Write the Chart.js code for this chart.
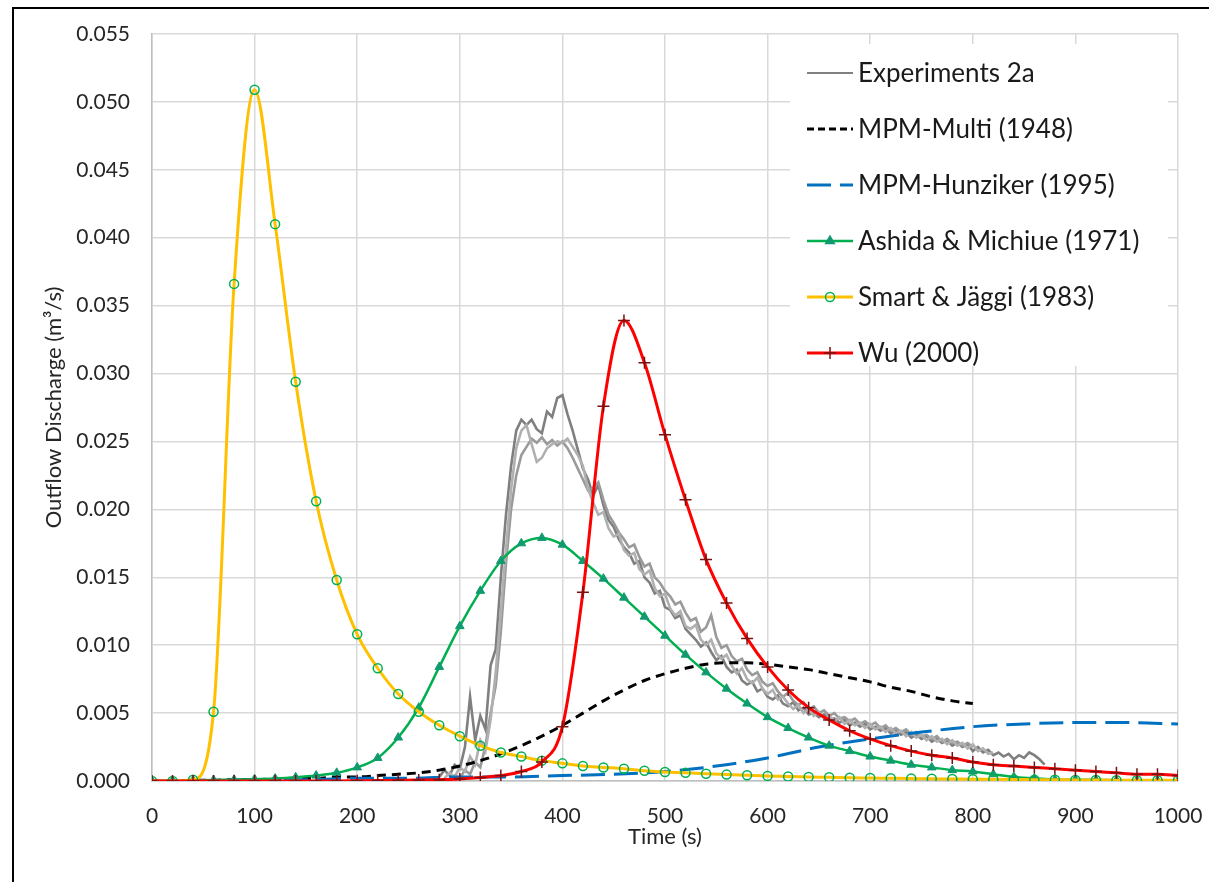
<!DOCTYPE html>
<html>
<head>
<meta charset="utf-8">
<script src="https://cdn.jsdelivr.net/npm/chart.js@4.4.1/dist/chart.umd.min.js"></script>
<style>
  html, body { margin: 0; padding: 0; background: #fff; overflow: hidden; }
  #frame { position: absolute; left: 12px; top: 7px; width: 1300px; height: 1000px; border: 2px solid #000; }
  #wrap { position: absolute; left: 0; top: 0; width: 1209px; height: 882px; }
</style>
</head>
<body>
<div id="frame"></div>
<div id="wrap"><canvas id="flowChart"></canvas></div>
<script>
// model runs, sampled every 20 s
const modelTimes = [0, 20, 40, 60, 80, 100, 120, 140, 160, 180, 200, 220, 240, 260, 280, 300, 320, 340, 360, 380,
  400, 420, 440, 460, 480, 500, 520, 540, 560, 580, 600, 620, 640, 660, 680, 700, 720, 740, 760, 780,
  800, 820, 840, 860, 880, 900, 920, 940, 960, 980, 1000];

const smartJaeggi = [0, 0, 0.0001, 0.0051, 0.0366, 0.0509, 0.0410, 0.0294, 0.0206, 0.0148, 0.0108, 0.0083, 0.0064, 0.0051, 0.0041, 0.0033, 0.0026, 0.0021, 0.0018, 0.0015,
  0.0013, 0.0011, 0.0010, 0.0009, 0.00075, 0.00066, 0.0006, 0.00053, 0.00047, 0.00042, 0.00037, 0.00033, 0.0003, 0.00027, 0.00024, 0.00022, 0.0002, 0.00018, 0.00016, 0.00015,
  0.00013, 0.00012, 0.00011, 0.0001, 0.00009, 0.00008, 0.00007, 0.00006, 0.00006, 0.00005, 0.00005];

const ashidaMichiue = [0, 0.00002, 0.00005, 0.00008, 0.0001, 0.00013, 0.00018, 0.00027, 0.0004, 0.0006, 0.0010, 0.0017, 0.0032, 0.0054, 0.0084, 0.0114, 0.0140, 0.0162, 0.0175, 0.0179,
  0.0174, 0.0162, 0.0149, 0.0135, 0.0121, 0.0107, 0.0093, 0.0080, 0.0068, 0.0057, 0.0047, 0.0039, 0.0032, 0.0026, 0.0022, 0.0018, 0.0015, 0.0012, 0.0010, 0.0008,
  0.0007, 0.0005, 0.0003, 0.0002, 0.0001, 0.0001, 0.00008, 0.00006, 0.00005, 0.00004, 0.00003];

const wu = [0, 0, 0, 0, 0, 0, 0, 0, 0, 0, 0.00002, 0.00003, 0.00005, 0.00007, 0.0001, 0.00015, 0.00025, 0.0004, 0.0007, 0.0014,
  0.0040, 0.0139, 0.0276, 0.0339, 0.0308, 0.0255, 0.0207, 0.0163, 0.0131, 0.0105, 0.0084, 0.0067, 0.0054, 0.0045, 0.0037, 0.0031, 0.0026, 0.0022, 0.0019, 0.0017,
  0.0014, 0.0012, 0.0011, 0.0010, 0.0009, 0.0008, 0.0007, 0.0006, 0.0005, 0.0005, 0.0004];

// MPM-Multi stops at 800 s
const multiTimes = modelTimes.slice(0, 41);
const mpmMulti = [0, 0, 0.00005, 0.00005, 0.0001, 0.0001, 0.00015, 0.0002, 0.0002, 0.0003, 0.0003, 0.0004, 0.0005, 0.0006, 0.0008, 0.0011, 0.0015, 0.0020, 0.0026, 0.0033,
  0.0041, 0.0050, 0.0059, 0.0067, 0.0074, 0.0079, 0.0083, 0.0086, 0.0087, 0.0087, 0.0086, 0.0084, 0.0082, 0.0079, 0.0076, 0.0073, 0.0069, 0.0066, 0.0062, 0.0059,
  0.0057];

const hunzikerTimes = [0, 50, 100, 150, 200, 250, 300, 350, 400, 450, 500, 550, 600, 650, 700, 750, 800, 850, 900, 950, 1000];
const mpmHunziker = [0, 0, 0.0001, 0.0001, 0.0002, 0.0002, 0.0003, 0.0003, 0.0004, 0.0005, 0.0007, 0.0011, 0.0017, 0.0025, 0.0031, 0.0036, 0.0040, 0.0042, 0.0043, 0.0043, 0.0042];

// three repeats of experiment 2a, logged every 5 s
const expStep = 5;
const expAStart = 280;
const expA = [0.0003, 0.0008, 0.0004, 0.0012, 0.0009, 0.0025, 0.0062, 0.0030, 0.0048, 0.0038, 0.0085, 0.0097, 0.0150, 0.0196, 0.0232, 0.0258, 0.0266, 0.0262, 0.0266, 0.0259,
  0.0256, 0.0272, 0.0268, 0.0282, 0.0284, 0.0270, 0.0258, 0.0244, 0.0230, 0.0222, 0.0210, 0.0218, 0.0203, 0.0192, 0.0187, 0.0178, 0.0172, 0.0168, 0.0160, 0.0162,
  0.0150, 0.0146, 0.0138, 0.0140, 0.0128, 0.0126, 0.0120, 0.0122, 0.0112, 0.0108, 0.0104, 0.0099, 0.0102, 0.0095, 0.0089, 0.0092, 0.0084, 0.0080, 0.0082, 0.0074,
  0.0071, 0.0073, 0.0066, 0.0068, 0.0062, 0.0060, 0.0063, 0.0057, 0.0055, 0.0058, 0.0052, 0.0054, 0.0049, 0.0050, 0.0047, 0.0049, 0.0045, 0.0046, 0.0043, 0.0045,
  0.0041, 0.0043, 0.0040, 0.0042, 0.0038, 0.0040, 0.0037, 0.0039, 0.0035, 0.0037, 0.0034, 0.0036, 0.0032, 0.0034, 0.0031, 0.0033, 0.0029, 0.0031, 0.0028, 0.0030,
  0.0026, 0.0028, 0.0025, 0.0027, 0.0022, 0.0025, 0.0021, 0.0023, 0.0019, 0.0021, 0.0018, 0.0020, 0.0016, 0.0019, 0.0017, 0.0021, 0.0019, 0.0016, 0.0012];

const expBStart = 285;
const expB = [0.0002, 0.0006, 0.0003, 0.0010, 0.0007, 0.0018, 0.0012, 0.0030, 0.0022, 0.0045, 0.0080, 0.0125, 0.0170, 0.0215, 0.0245, 0.0258, 0.0262, 0.0248, 0.0235, 0.0238,
  0.0245, 0.0248, 0.0250, 0.0249, 0.0252, 0.0246, 0.0240, 0.0232, 0.0215, 0.0205, 0.0196, 0.0198, 0.0186, 0.0180, 0.0182, 0.0170, 0.0166, 0.0168, 0.0156, 0.0152,
  0.0155, 0.0142, 0.0136, 0.0138, 0.0127, 0.0122, 0.0125, 0.0114, 0.0112, 0.0115, 0.0104, 0.0100, 0.0104, 0.0094, 0.0090, 0.0093, 0.0085, 0.0079, 0.0083, 0.0075,
  0.0072, 0.0076, 0.0068, 0.0064, 0.0067, 0.0060, 0.0062, 0.0057, 0.0053, 0.0056, 0.0050, 0.0053, 0.0048, 0.0051, 0.0046, 0.0048, 0.0044, 0.0047, 0.0042, 0.0045,
  0.0041, 0.0043, 0.0039, 0.0042, 0.0038, 0.0040, 0.0036, 0.0039, 0.0035, 0.0037, 0.0033, 0.0036, 0.0032, 0.0034, 0.0030, 0.0033, 0.0029, 0.0031, 0.0027, 0.0030,
  0.0026, 0.0028, 0.0024, 0.0027, 0.0022, 0.0024, 0.0020, 0.0021];

const expCStart = 290;
const expC = [0.0001, 0.0004, 0.0002, 0.0008, 0.0005, 0.0014, 0.0010, 0.0026, 0.0050, 0.0070, 0.0110, 0.0160, 0.0200, 0.0225, 0.0240, 0.0246, 0.0252, 0.0249, 0.0253, 0.0248,
  0.0251, 0.0247, 0.0250, 0.0245, 0.0238, 0.0230, 0.0222, 0.0214, 0.0216, 0.0220, 0.0207, 0.0196, 0.0190, 0.0183, 0.0178, 0.0172, 0.0174, 0.0165, 0.0158, 0.0160,
  0.0150, 0.0146, 0.0140, 0.0136, 0.0130, 0.0132, 0.0124, 0.0118, 0.0120, 0.0110, 0.0113, 0.0122, 0.0106, 0.0098, 0.0100, 0.0092, 0.0088, 0.0090, 0.0082, 0.0078,
  0.0080, 0.0073, 0.0070, 0.0072, 0.0066, 0.0062, 0.0065, 0.0059, 0.0056, 0.0058, 0.0053, 0.0055, 0.0050, 0.0052, 0.0048, 0.0050, 0.0046, 0.0047, 0.0044, 0.0046,
  0.0042, 0.0044, 0.0041, 0.0043, 0.0039, 0.0041, 0.0037, 0.0039, 0.0036, 0.0038, 0.0034, 0.0036, 0.0033, 0.0034, 0.0031, 0.0033, 0.0029, 0.0031, 0.0028, 0.0029,
  0.0026, 0.0028, 0.0025];

const xTicksMax = 1000;
const yTicksMax = 0.055;
const yTickStep = 0.005;

const FONT = "Lato, 'Open Sans', sans-serif";

function pairs(times, values) {
  return values.map((v, i) => ({ x: times[i], y: v }));
}

function series(start, values) {
  return values.map((v, i) => ({ x: start + i * expStep, y: v }));
}

const expLine = color => ({
  borderColor: color,
  borderWidth: 2.6,
  pointRadius: 0,
  tension: 0,
  order: 6
});

// legend entries, drawn inside the plot area on a white card
const legendEntries = [
  { label: "Experiments 2a", color: "#808080", width: 2, dash: [] },
  { label: "MPM-Multi (1948)", color: "#000000", width: 3, dash: [7, 4] },
  { label: "MPM-Hunziker (1995)", color: "#0070c0", width: 3, dash: [24, 9] },
  { label: "Ashida & Michiue (1971)", color: "#00b050", width: 2.5, dash: [], marker: { style: "triangle", fill: "#119a70", stroke: "#119a70", r: 5 } },
  { label: "Smart & Jäggi (1983)", color: "#ffc000", width: 3, dash: [], marker: { style: "circle", fill: "rgba(255,255,255,0)", stroke: "#00b050", r: 4.5 } },
  { label: "Wu (2000)", color: "#ff0000", width: 3, dash: [], marker: { style: "cross", fill: "#7a1010", stroke: "#7a1010", r: 6 } }
];

const insideLegend = {
  id: "insideLegend",
  beforeDatasetsDraw(chart) {
    const { ctx, chartArea } = chart;
    const x0 = chartArea.right - 388;
    const y0 = chartArea.top + 10;
    ctx.save();
    ctx.fillStyle = "#fff";
    ctx.fillRect(x0, y0, 378, 322);
    ctx.font = "26px " + FONT;
    ctx.textBaseline = "middle";
    legendEntries.forEach((e, i) => {
      const y = y0 + 29 + i * 56;
      ctx.beginPath();
      ctx.setLineDash(e.dash);
      ctx.strokeStyle = e.color;
      ctx.lineWidth = e.width;
      ctx.moveTo(x0 + 17, y);
      ctx.lineTo(x0 + 63, y);
      ctx.stroke();
      ctx.setLineDash([]);
      if (e.marker) {
        ctx.fillStyle = e.marker.fill;
        ctx.strokeStyle = e.marker.stroke;
        ctx.lineWidth = 1.5;
        Chart.helpers.drawPoint(ctx, { pointStyle: e.marker.style, radius: e.marker.r, rotation: 0, borderWidth: 1.5 }, x0 + 40, y);
      }
      ctx.fillStyle = "#1a1a1a";
      ctx.fillText(e.label, x0 + 68, y + 1);
    });
    ctx.restore();
  }
};

new Chart(document.getElementById("flowChart"), {
  type: "line",
  data: {
    datasets: [
      {
        label: "Wu (2000)",
        data: pairs(modelTimes, wu),
        borderColor: "#ff0000",
        borderWidth: 3,
        pointStyle: "cross",
        pointRadius: 6,
        pointBorderColor: "#7a1010",
        pointBorderWidth: 1.5,
        cubicInterpolationMode: "monotone",
        order: 0
      },
      {
        label: "Smart & Jäggi (1983)",
        data: pairs(modelTimes, smartJaeggi),
        borderColor: "#ffc000",
        borderWidth: 3,
        pointStyle: "circle",
        pointRadius: 4.5,
        pointBorderColor: "#00b050",
        pointBackgroundColor: "rgba(255,255,255,0)",
        pointBorderWidth: 1.5,
        cubicInterpolationMode: "monotone",
        order: 1
      },
      {
        label: "Ashida & Michiue (1971)",
        data: pairs(modelTimes, ashidaMichiue),
        borderColor: "#00b050",
        borderWidth: 2.5,
        pointStyle: "triangle",
        pointRadius: 5,
        pointBorderColor: "#119a70",
        pointBackgroundColor: "#119a70",
        pointBorderWidth: 1,
        cubicInterpolationMode: "monotone",
        order: 2
      },
      {
        label: "MPM-Hunziker (1995)",
        data: pairs(hunzikerTimes, mpmHunziker),
        borderColor: "#0070c0",
        borderWidth: 3,
        borderDash: [24, 9],
        pointRadius: 0,
        cubicInterpolationMode: "monotone",
        order: 3
      },
      {
        label: "MPM-Multi (1948)",
        data: pairs(multiTimes, mpmMulti),
        borderColor: "#000000",
        borderWidth: 3,
        borderDash: [9, 6],
        pointRadius: 0,
        cubicInterpolationMode: "monotone",
        order: 4
      },
      { label: "Experiments 2a", data: series(expBStart, expB), ...expLine("#b0b0b0") },
      { label: "Experiments 2a", data: series(expCStart, expC), ...expLine("#9a9a9a") },
      { label: "Experiments 2a", data: series(expAStart, expA), ...expLine("#7f7f7f") }
    ]
  },
  options: {
    responsive: true,
    maintainAspectRatio: false,
    animation: false,
    events: [],
    layout: { padding: { left: 0, top: 34, right: 31, bottom: 0 } },
    plugins: {
      legend: { display: false },
      tooltip: { enabled: false }
    },
    scales: {
      x: {
        type: "linear",
        min: 0,
        max: xTicksMax,
        grid: { color: "#d9d9d9", lineWidth: 1.5, drawTicks: false },
        border: { color: "#bfbfbf", width: 1.5 },
        ticks: { stepSize: 100, padding: 23, color: "#262626", font: { family: FONT, size: 21 }, callback: v => String(v) },
        title: { display: true, text: "Time (s)", color: "#262626", font: { family: FONT, size: 22 }, padding: { top: 0, bottom: 32 } },
        afterFit(scale) {
          scale.height = 101;
          // the end labels fit inside the layout padding already
          scale.paddingLeft = 0;
          scale.paddingRight = 0;
        }
      },
      y: {
        min: 0,
        max: yTicksMax,
        grid: { color: "#d9d9d9", lineWidth: 1.5, drawTicks: false },
        border: { color: "#bfbfbf", width: 1.5 },
        ticks: {
          stepSize: yTickStep,
          padding: 22,
          color: "#262626",
          font: { family: FONT, size: 21 },
          callback: v => Number(v).toFixed(3)
        },
        title: { display: true, text: "Outflow Discharge (m³/s)", color: "#262626", font: { family: FONT, size: 22 }, padding: { top: 41, bottom: 0 } },
        afterFit(scale) {
          scale.width = 152;
          scale.paddingTop = 0;
          scale.paddingBottom = 0;
        }
      }
    }
  },
  plugins: [insideLegend]
});
</script>
</body>
</html>
